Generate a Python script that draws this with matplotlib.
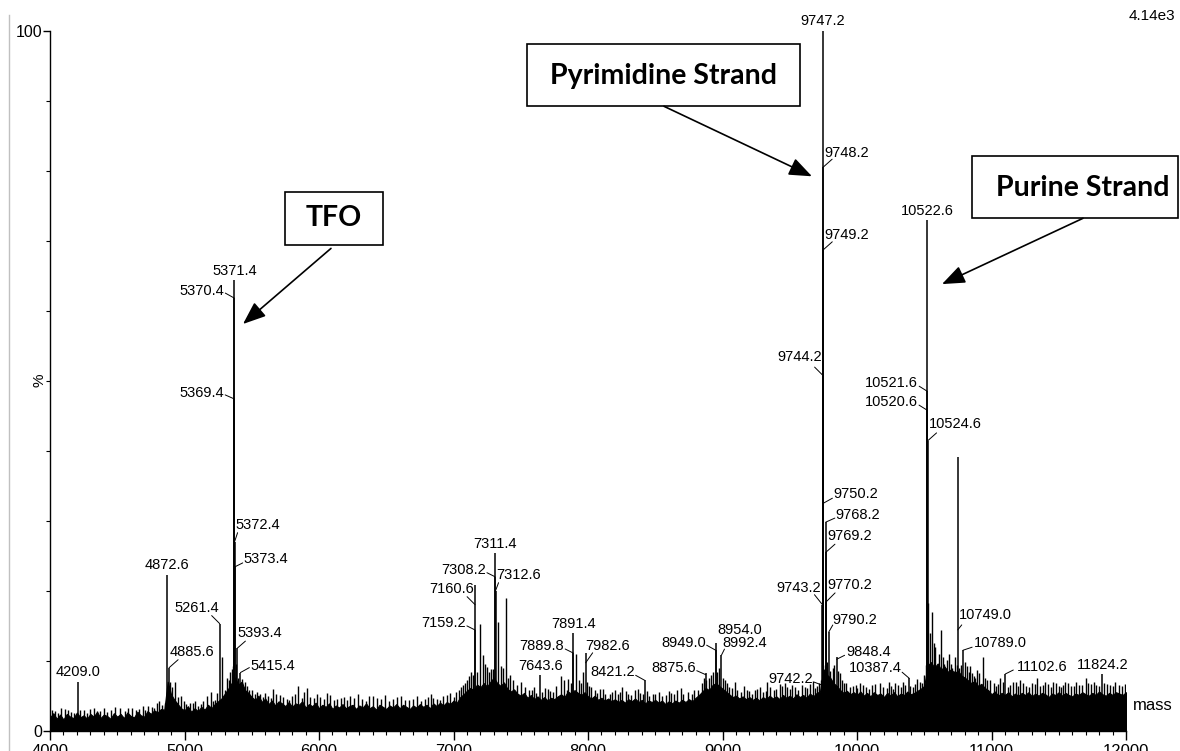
import numpy as np
import matplotlib
matplotlib.use("Agg")
import matplotlib.pyplot as plt
from matplotlib.patches import FancyArrowPatch, Rectangle
from matplotlib.lines import Line2D
from matplotlib.ticker import MultipleLocator

# ---------------------------------------------------------------------------
# Spectrum data (mass in Da, intensity in % of base peak)
# ---------------------------------------------------------------------------
base_peak_counts = "4.14e3"

# labelled peaks
peak_mass = [4209.0, 4872.6, 4885.6, 5261.4, 5369.4, 5370.4, 5371.4, 5372.4,
             5373.4, 5393.4, 5415.4, 7159.2, 7160.6, 7308.2, 7311.4, 7312.6,
             7643.6, 7889.8, 7891.4, 7982.6, 8421.2, 8875.6, 8949.0, 8954.0,
             8992.4, 9742.2, 9743.2, 9744.2, 9747.2, 9748.2, 9749.2, 9750.2,
             9768.2, 9769.2, 9770.2, 9790.2, 9848.4, 10387.4, 10520.6, 10521.6,
             10522.6, 10524.6, 10749.0, 10789.0, 11102.6, 11824.2]
peak_height = [7.0, 22.2, 9.0, 15.3, 47.4, 61.8, 64.4, 27.0,
               23.4, 11.8, 8.3, 14.4, 20.8, 22.0, 25.4, 20.0,
               8.0, 11.1, 14.0, 11.1, 7.2, 8.2, 11.5, 12.5,
               10.8, 6.5, 18.0, 50.8, 100.0, 80.5, 68.7, 32.5,
               29.8, 25.5, 18.4, 14.1, 10.5, 7.5, 45.8, 48.5,
               72.9, 41.4, 39.1, 11.6, 8.1, 8.1]

# unlabelled spikes standing above the baseline noise
spike_mass = [4015, 4037, 4060, 4080, 4110, 4134, 4155, 4175, 4225, 4250,
              4275, 4300, 4325, 4349, 4375, 4400, 4425, 4450, 4480, 4520,
              4555, 4580, 4610, 4640, 4665, 4690, 4710, 4730, 4760, 4775,
              4795, 4810, 4830, 4855, 4895, 4910, 4930, 4955, 4975, 4995,
              5010, 5040, 5060, 5080, 5100, 5120, 5138, 5165, 5197, 5215,
              5230, 5245, 5279, 5300, 5315, 5330, 5340, 5350, 5360, 5380,
              5400, 5425, 5430, 5450, 5465, 5480, 5500, 5524, 5540, 5560,
              5580, 5600, 5620, 5640, 5657, 5680, 5710, 5730, 5760, 5780,
              5800, 5820, 5844, 5870, 5890, 5911, 5935, 5960, 5985, 6010,
              6035, 6059, 6085, 6110, 6135, 6160, 6185, 6210, 6230, 6260,
              6290, 6320, 6350, 6375, 6400, 6430, 6460, 6490, 6520, 6550,
              6580, 6610, 6640, 6670, 6700, 6730, 6760, 6785, 6810, 6830,
              6850, 6875, 6900, 6925, 6950, 6975, 7000, 7020, 7040, 7055,
              7070, 7085, 7100, 7115, 7130, 7145, 7175, 7197, 7219, 7235,
              7249, 7265, 7280, 7295, 7331, 7350, 7365, 7390, 7405, 7420,
              7440, 7472, 7500, 7531, 7560, 7580, 7595, 7610, 7660, 7680,
              7700, 7720, 7740, 7760, 7800, 7825, 7844, 7855, 7870, 7911,
              7930, 7950, 7963, 7995, 8005, 8020, 8050, 8070, 8089, 8110,
              8130, 8160, 8180, 8200, 8220, 8240, 8253, 8280, 8300, 8320,
              8350, 8370, 8390, 8410, 8440, 8450, 8483, 8500, 8530, 8550,
              8580, 8600, 8620, 8640, 8661, 8690, 8710, 8740, 8773, 8790,
              8820, 8850, 8860, 8880, 8900, 8915, 8930, 8960, 8975, 9005,
              9020, 9035, 9050, 9070, 9093, 9110, 9140, 9160, 9180, 9200,
              9219, 9240, 9260, 9280, 9300, 9320, 9331, 9355, 9380, 9400,
              9428, 9445, 9465, 9480, 9500, 9520, 9540, 9560, 9591, 9610,
              9630, 9650, 9673, 9690, 9700, 9720, 9735, 9760, 9780, 9800,
              9820, 9830, 9860, 9874, 9890, 9900, 9920, 9950, 9970, 9990,
              10000, 10022, 10045, 10070, 10090, 10110, 10135, 10171, 10195, 10220,
              10235, 10250, 10270, 10283, 10305, 10330, 10345, 10360, 10395, 10420,
              10430, 10446, 10465, 10480, 10500, 10515, 10530, 10545, 10558, 10570,
              10580, 10595, 10610, 10625, 10640, 10650, 10660, 10669, 10684, 10700,
              10710, 10720, 10729, 10740, 10760, 10770, 10800, 10818, 10830, 10840,
              10855, 10870, 10880, 10892, 10910, 10937, 10955, 10970, 10990, 11015,
              11030, 11045, 11063, 11085, 11120, 11140, 11160, 11180, 11195, 11212,
              11235, 11260, 11280, 11300, 11320, 11338, 11360, 11380, 11400, 11420,
              11440, 11457, 11480, 11500, 11515, 11530, 11550, 11569, 11590, 11610,
              11630, 11650, 11670, 11703, 11720, 11740, 11760, 11780, 11800, 11840,
              11860, 11880, 11903, 11920, 11950, 11970, 11990, 12000]
spike_height = [2.9, 2.8, 2.5, 3.2, 3.1, 3.0, 2.7, 2.6, 3.0, 2.9,
                2.6, 3.1, 3.2, 2.8, 2.8, 3.3, 2.7, 3.0, 3.4, 3.2,
                2.8, 3.2, 3.3, 2.9, 3.1, 3.5, 3.0, 3.6, 3.4, 3.3,
                3.9, 4.2, 3.7, 4.0, 7.0, 6.2, 7.0, 4.8, 5.0, 4.3,
                3.8, 3.9, 4.0, 4.2, 3.6, 3.8, 4.2, 5.0, 5.6, 4.3,
                4.4, 5.4, 10.6, 5.8, 7.6, 7.3, 8.4, 8.8, 9.2, 9.5,
                7.6, 7.4, 7.0, 6.9, 6.4, 5.8, 5.8, 5.2, 5.6, 5.3,
                4.8, 5.4, 5.0, 4.7, 5.9, 5.3, 5.1, 4.8, 4.6, 4.4,
                4.9, 5.2, 6.4, 4.7, 5.6, 6.1, 4.8, 4.7, 5.2, 4.8,
                4.5, 5.4, 5.1, 4.4, 4.6, 4.7, 4.8, 4.4, 4.9, 4.7,
                5.3, 4.5, 4.3, 4.9, 5.0, 4.7, 4.6, 5.1, 4.3, 4.6,
                4.8, 4.9, 4.4, 4.4, 4.6, 5.0, 4.2, 4.5, 4.8, 5.2,
                4.7, 4.6, 4.4, 4.9, 5.1, 5.4, 4.8, 5.6, 5.8, 6.2,
                6.6, 6.8, 7.3, 7.8, 8.4, 8.0, 8.4, 15.2, 10.8, 9.5,
                9.1, 8.4, 8.8, 8.8, 15.6, 9.2, 9.0, 19.0, 7.6, 8.0,
                7.2, 6.6, 6.9, 6.3, 5.8, 5.8, 6.3, 5.4, 5.6, 6.1,
                6.0, 5.7, 5.6, 6.4, 7.8, 7.2, 5.8, 7.4, 6.8, 11.0,
                7.2, 6.8, 8.4, 7.0, 6.4, 6.3, 5.8, 5.4, 5.9, 6.0,
                5.3, 5.2, 5.6, 5.8, 5.2, 5.5, 6.2, 5.7, 5.3, 5.1,
                5.8, 6.0, 5.4, 5.2, 5.7, 5.0, 5.3, 5.3, 5.6, 5.0,
                5.1, 5.7, 5.4, 5.2, 5.8, 6.1, 5.2, 5.5, 5.2, 5.8,
                5.8, 6.8, 7.6, 7.2, 7.6, 8.0, 8.4, 8.4, 9.0, 7.6,
                7.2, 6.8, 6.3, 6.1, 7.0, 5.8, 5.6, 6.4, 5.8, 5.7,
                5.2, 5.8, 6.0, 6.2, 5.6, 5.7, 6.9, 6.3, 5.8, 6.0,
                6.7, 6.4, 6.8, 6.3, 6.0, 6.6, 6.3, 5.8, 6.6, 6.2,
                6.1, 6.7, 7.1, 6.1, 6.4, 6.8, 7.2, 9.4, 9.8, 8.6,
                9.0, 9.4, 8.6, 8.2, 7.2, 6.8, 6.8, 6.2, 6.4, 6.6,
                6.1, 6.8, 6.6, 6.3, 6.0, 6.5, 6.7, 6.8, 6.2, 6.1,
                6.9, 6.4, 6.0, 6.8, 6.5, 6.2, 7.0, 6.6, 6.4, 6.3,
                6.7, 7.4, 7.0, 6.8, 8.0, 9.4, 18.2, 14.0, 17.0, 12.5,
                12.0, 9.0, 11.0, 14.4, 10.5, 9.5, 9.0, 10.1, 11.0, 9.5,
                9.0, 8.6, 10.5, 9.4, 9.0, 9.4, 9.8, 9.2, 8.4, 9.2,
                8.2, 7.8, 7.6, 8.7, 8.2, 10.5, 7.6, 7.3, 7.2, 6.8,
                6.4, 6.7, 7.6, 6.9, 6.3, 6.6, 7.0, 6.9, 6.4, 7.2,
                6.8, 6.4, 6.2, 6.8, 6.7, 7.6, 6.4, 6.5, 6.9, 6.7,
                6.3, 7.0, 6.8, 6.4, 6.2, 6.6, 7.0, 6.8, 6.4, 6.4,
                6.9, 6.6, 6.5, 7.5, 6.8, 6.7, 7.0, 6.5, 6.4, 6.8,
                6.7, 6.5, 6.4, 6.9, 6.6, 6.4, 6.7, 6.1]

# top of the dense baseline noise, every 25 Da from 4000 to 12000
noise_mass = np.arange(4000, 12001, 25)
noise_level = [1.9, 2.5, 1.7, 2.3, 1.6, 2.4, 2.0, 1.8, 2.6, 1.9,
               2.2, 1.7, 2.4, 2.0, 2.7, 1.8, 2.3, 2.1, 1.7, 2.5,
               2.0, 2.4, 1.8, 2.6, 2.1, 1.9, 2.7, 2.2, 2.0, 2.8,
               2.4, 2.9, 2.6, 3.1, 3.0, 7.0, 5.2, 4.4, 3.8, 3.2,
               2.9, 3.5, 2.7, 3.2, 2.8, 3.4, 3.0, 3.7, 3.2, 3.8,
               4.2, 4.6, 5.3, 6.0, 6.8, 7.6, 6.6, 7.0, 5.8, 5.4,
               4.8, 4.4, 5.0, 4.1, 4.6, 3.8, 4.3, 3.6, 4.2, 3.9,
               3.5, 4.1, 3.4, 3.9, 3.7, 4.2, 3.3, 3.8, 3.5, 4.0,
               3.2, 3.7, 3.4, 3.9, 3.1, 3.6, 3.3, 3.8, 3.2, 3.5,
               3.7, 3.1, 3.6, 3.3, 3.9, 3.2, 3.5, 3.0, 3.7, 3.4,
               3.1, 3.6, 3.3, 3.8, 3.2, 3.7, 3.4, 3.1, 3.6, 3.3,
               3.8, 3.4, 3.7, 3.2, 3.9, 3.5, 4.0, 3.6, 4.1, 3.8,
               4.3, 4.0, 4.8, 5.2, 5.7, 6.1, 5.8, 6.6, 6.2, 6.8,
               6.3, 7.0, 7.6, 6.8, 6.4, 6.9, 6.0, 5.6, 5.9, 5.3,
               5.0, 5.4, 4.7, 5.1, 4.5, 4.9, 4.4, 4.8, 4.3, 4.7,
               4.5, 4.9, 5.2, 4.8, 5.6, 5.3, 5.8, 5.4, 5.1, 5.5,
               4.9, 4.6, 5.0, 4.4, 4.7, 4.3, 4.6, 4.2, 4.5, 4.1,
               4.4, 4.0, 4.5, 4.2, 4.6, 4.1, 4.4, 3.9, 4.3, 4.1,
               4.4, 4.0, 4.3, 3.8, 4.2, 3.9, 4.3, 4.0, 4.4, 4.1,
               4.5, 4.2, 4.7, 5.1, 5.6, 6.1, 5.8, 6.5, 6.8, 6.4,
               6.0, 5.6, 5.2, 4.8, 5.0, 4.6, 4.9, 4.5, 4.8, 4.4,
               4.7, 4.3, 4.8, 4.5, 5.0, 4.6, 4.9, 4.5, 5.1, 4.7,
               5.0, 4.6, 5.2, 4.8, 5.1, 4.7, 5.3, 4.9, 5.4, 5.6,
               8.8, 8.0, 7.6, 6.8, 6.4, 5.8, 5.4, 5.7, 5.2, 5.5,
               5.1, 5.6, 5.0, 5.4, 4.9, 5.5, 5.1, 5.3, 4.8, 5.4,
               5.0, 5.5, 4.9, 5.3, 5.1, 5.6, 5.2, 5.4, 5.7, 6.0,
               6.4, 9.3, 9.8, 9.0, 9.6, 8.7, 9.2, 8.4, 8.8, 8.2,
               8.6, 7.9, 7.6, 7.2, 6.8, 7.1, 6.4, 6.7, 6.1, 5.8,
               5.2, 5.6, 5.0, 5.4, 5.1, 5.5, 4.9, 5.3, 5.0, 5.4,
               5.1, 5.5, 4.9, 5.3, 5.0, 5.4, 5.2, 4.8, 5.3, 5.1,
               5.5, 5.0, 5.4, 5.1, 4.9, 5.3, 5.1, 5.5, 5.2, 5.0,
               5.4, 5.1, 5.6, 5.2, 5.0, 5.4, 5.1, 5.5, 5.3, 5.1,
               5.5]

# label layout: mass -> (leader height %, text dx, text dy, alignment,
#                        leader dx, leader dy), offsets in pixels
label_layout = {
    4209.0: (7.0, 0, 10, "center", 0, 0),
    4872.6: (22.2, 0, 10, "center", 0, 0),
    4885.6: (9.0, 1, 16, "left", 9, 8),
    5261.4: (15.3, -1, 16, "right", -8, 8),
    5369.4: (47.4, -10, 6, "right", -9, 4),
    5370.4: (61.8, -10, 7, "right", -9, 5),
    5371.4: (64.4, 0, 9, "center", 0, 0),
    5372.4: (27.0, 1, 17, "left", 3, 9),
    5373.4: (23.4, 9, 8, "left", 8, 4),
    5393.4: (11.8, 0, 15, "left", 8, 7),
    5415.4: (8.3, 10, 7, "left", 9, 5),
    7159.2: (14.4, -9, 7, "right", -8, 4),
    7160.6: (18.0, -1, 16, "right", -8, 8),
    7308.2: (22.0, -9, 7, "right", -8, 4),
    7311.4: (25.4, 0, 9, "center", 0, 0),
    7312.6: (20.0, 1, 16, "left", 3, 8),
    7643.6: (8.0, 0, 9, "center", 0, 0),
    7889.8: (11.1, -9, 7, "right", -8, 4),
    7891.4: (14.0, 0, 9, "center", 0, 0),
    7982.6: (9.7, 0, 17, "left", 7, 10),
    8421.2: (7.2, -10, 8, "right", -9, 5),
    8875.6: (8.0, -10, 7, "right", -9, 4),
    8949.0: (11.5, -10, 7, "right", -9, 5),
    8954.0: (12.5, 1, 13, "left", 0, 0),
    8992.4: (10.8, 1, 12, "left", 3, 6),
    9742.2: (6.5, -9, 6, "right", -8, 3),
    9743.2: (18.0, -1, 17, "right", -8, 10),
    9744.2: (50.8, -1, 18, "right", -8, 8),
    9747.2: (100.0, 0, 10, "center", 0, 0),
    9748.2: (80.5, 1, 14, "left", 9, 8),
    9749.2: (68.7, 1, 15, "left", 9, 8),
    9750.2: (32.5, 10, 9, "left", 9, 5),
    9768.2: (29.8, 10, 7, "left", 9, 4),
    9769.2: (25.5, 1, 16, "left", 9, 8),
    9770.2: (18.4, 1, 17, "left", 9, 9),
    9790.2: (14.1, 4, 12, "left", 4, 7),
    9848.4: (10.2, 10, 7, "left", 8, 4),
    10387.4: (7.5, -7, 10, "right", -7, 6),
    10520.6: (45.8, -9, 8, "right", -8, 5),
    10521.6: (48.5, -9, 8, "right", -8, 5),
    10522.6: (72.9, 0, 9, "center", 0, 0),
    10524.6: (41.4, 1, 17, "left", 9, 8),
    10749.0: (14.4, 1, 15, "left", 4, 5),
    10789.0: (11.5, 11, 7, "left", 9, 3),
    11102.6: (8.1, 12, 7, "left", 8, 4),
    11824.2: (8.1, 0, 9, "center", 0, 0),
}

# call-out boxes: text, box corners (mass, %), text centre, arrow tail, head
callouts = [
    ("TFO", (5747, 69.4), (6476, 77.0), (6112, 73.2), (6089, 68.9), (5435, 58.1)),
    ("Pyrimidine Strand", (7546, 89.2), (9576, 98.1), (8561, 93.6),
     (8565, 89.2), (9665, 79.2)),
    ("Purine Strand", (10855, 73.2), (12387, 82.1), (11680, 77.6),
     (11680, 73.2), (10632, 63.8)),
]

# ---------------------------------------------------------------------------
W, H, DPI = 1180, 751, 100
fig = plt.figure(figsize=(W / DPI, H / DPI), dpi=DPI)
ax = fig.add_axes([50 / W, 20.3 / H, 1076 / W, 700 / H])

label_font = "Liberation Sans"

# baseline noise and peaks
ax.fill_between(noise_mass, 0, noise_level, color="black", lw=0.8, zorder=2)
ax.vlines(spike_mass, 0, spike_height, color="black", lw=1.0, zorder=2)
ax.vlines(peak_mass, 0, peak_height, color="black", lw=1.1, zorder=3)

ax.set_xlim(4000, 12000)
ax.set_ylim(0, 100)

for side in ("top", "right"):
    ax.spines[side].set_visible(False)
for side in ("left", "bottom"):
    ax.spines[side].set_linewidth(1.0)
    ax.spines[side].set_color("black")

ax.set_xticks(np.arange(4000, 12001, 1000))
ax.xaxis.set_minor_locator(MultipleLocator(100))
ax.set_yticks([0, 100])
ax.yaxis.set_minor_locator(MultipleLocator(10))
ax.tick_params(axis="x", which="major", length=6.5, width=1, pad=3,
               labelsize=12)
ax.tick_params(axis="x", which="minor", length=3, width=0.8)
ax.tick_params(axis="y", which="major", length=5, width=1, pad=0.5,
               labelsize=11.5)
ax.tick_params(axis="y", which="minor", length=3, width=0.8)
for lab in ax.get_xticklabels() + ax.get_yticklabels():
    lab.set_fontfamily(label_font)

# axis captions
ax.annotate("%", xy=(0, 0.5), xycoords="axes fraction", xytext=(-10, 0),
            textcoords="offset pixels", rotation=90, ha="center", va="center",
            fontsize=11, family=label_font)
ax.annotate("mass", xy=(1, 0), xycoords="axes fraction", xytext=(7, 25),
            textcoords="offset pixels", ha="left", va="center",
            fontsize=12, family=label_font, annotation_clip=False)
ax.annotate(base_peak_counts, xy=(1, 1), xycoords="axes fraction",
            xytext=(49, 15), textcoords="offset pixels", ha="right",
            va="center", fontsize=11, family=label_font,
            annotation_clip=False)

# peak labels with leader ticks
for m in peak_mass:
    attach, tdx, tdy, ha, ldx, ldy = label_layout[m]
    ax.annotate(f"{m:.1f}", xy=(m, attach), xytext=(tdx, tdy),
                textcoords="offset pixels", ha=ha, va="center",
                fontsize=10.5, family=label_font, annotation_clip=False,
                zorder=5)
    if ldx or ldy:
        ax.annotate("", xy=(m, attach), xytext=(ldx, ldy),
                    textcoords="offset pixels", annotation_clip=False,
                    arrowprops=dict(arrowstyle="-", lw=0.7, color="black",
                                    shrinkA=0, shrinkB=0))

# call-out boxes with arrows
for text, (x0, y0), (x1, y1), centre, tail, head in callouts:
    rect = Rectangle((x0, y0), x1 - x0, y1 - y0, facecolor="white",
                     edgecolor="black", lw=1.2, clip_on=False, zorder=6)
    ax.add_patch(rect)
    ax.text(centre[0], centre[1], text, ha="center", va="center",
            fontsize=20.5, fontweight="bold", family="Lato", zorder=7,
            clip_on=False)
    arr = FancyArrowPatch(tail, head,
                          arrowstyle="-|>,head_length=1.4,head_width=0.55",
                          mutation_scale=10, lw=1.2, color="black",
                          shrinkA=0, shrinkB=0, clip_on=False, zorder=6)
    ax.add_patch(arr)

# page edge rule on the far left
fig.add_artist(Line2D([9.3 / W, 9.3 / W], [0, 1 - 15 / H],
                      transform=fig.transFigure, color="#c0c0c0", lw=1.0))

fig.savefig("out.png", dpi=DPI)
